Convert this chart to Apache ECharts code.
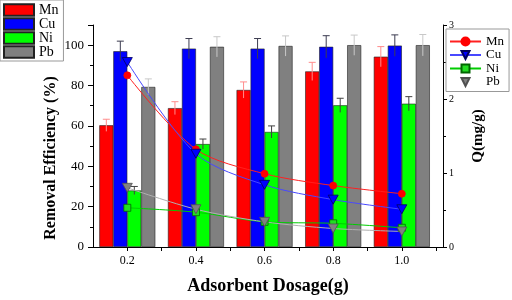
<!DOCTYPE html>
<html>
<head>
<meta charset="utf-8">
<script src="https://cdn.jsdelivr.net/npm/echarts@6/dist/echarts.min.js"></script>
<style>
html, body { margin: 0; padding: 0; background: #fff; }
#main { width: 512px; height: 300px; }
</style>
</head>
<body>
<div id="main"></div>
<script>
// dosage (g)
const dosage = [0.2, 0.4, 0.6, 0.8, 1.0]
// removal efficiency (%) and error bars
const effMn = [60.3, 68.8, 77.8, 87.0, 94.3]
const effCu = [97.0, 98.3, 98.3, 99.2, 99.8]
const effNi = [28.0, 51.0, 57.0, 70.2, 71.0]
const effPb = [79.3, 99.2, 99.6, 100.0, 100.0]
const errMn = [3.0, 3.2, 4.0, 4.5, 5.0]
const errCu = [5.0, 5.0, 5.0, 5.5, 5.3]
const errNi = [2.0, 2.5, 3.0, 3.5, 3.5]
const errPb = [4.0, 5.0, 5.0, 5.0, 5.3]
// adsorption capacity Q (mg/g)
const qMn = [2.32, 1.32, 0.99, 0.83, 0.72]
const qCu = [2.50, 1.26, 0.84, 0.64, 0.51]
const qNi = [0.53, 0.47, 0.34, 0.32, 0.26]
const qPb = [0.80, 0.51, 0.34, 0.25, 0.21]

const metals = ['Mn', 'Cu', 'Ni', 'Pb']
const barColors = ['#ff0000', '#0000ff', '#00ff00', '#808080']
const errColors = ['#ff8c8c', '#3c3c50', '#404040', '#c8c8c8']
const effAll = [effMn, effCu, effNi, effPb]
const errAll = [errMn, errCu, errNi, errPb]
const qAll = [qMn, qCu, qNi, qPb]

const font = 'Liberation Serif'
const BAR_W = 14
const downTri = 'path://M0,0 L10,0 L5,9 Z'

const chart = echarts.init(document.getElementById('main'))

const series = []
metals.forEach((m, k) => {
	series.push({
		name: m,
		type: 'bar',
		xAxisIndex: 0,
		yAxisIndex: 0,
		barWidth: BAR_W,
		barGap: '0%',
		itemStyle: { color: barColors[k], borderColor: '#222', borderWidth: 0.6 },
		data: dosage.map((d, i) => [d, effAll[k][i]]),
		z: 2
	})
})
metals.forEach((m, k) => {
	const off = (k - 1.5) * BAR_W
	series.push({
		name: 'err' + m,
		type: 'custom',
		xAxisIndex: 0,
		yAxisIndex: 0,
		z: 3,
		silent: true,
		data: dosage.map((d, i) => [d, effAll[k][i], errAll[k][i]]),
		renderItem(params, api) {
			const x = api.value(0), y = api.value(1), e = api.value(2)
			const hi = api.coord([x, y + e])
			const lo = api.coord([x, y - e])
			const cx = hi[0] + off
			const st = { stroke: errColors[k], lineWidth: 1 }
			return {
				type: 'group',
				children: [
					{ type: 'line', shape: { x1: cx, y1: lo[1], x2: cx, y2: hi[1] }, style: st },
					{ type: 'line', shape: { x1: cx - 3.5, y1: hi[1], x2: cx + 3.5, y2: hi[1] }, style: st }
				]
			}
		}
	})
})
const lineColors = ['#ff2020', '#4848ff', '#00cc00', '#b0b0b0']
const symbols = ['circle', downTri, 'rect', downTri]
const symColors = ['#ff0000', '#0000ff', '#22dd22', '#808080']
const symBorders = ['#ff0000', '#000060', '#006600', '#505050']
const symSizes = [7, [10, 9], 7, [10, 9]]
metals.forEach((m, k) => {
	series.push({
		name: m + ' ',
		type: 'line',
		xAxisIndex: 0,
		yAxisIndex: 1,
		smooth: 0.3,
		symbol: symbols[k],
		symbolSize: symSizes[k],
		showAllSymbol: true,
		lineStyle: { color: lineColors[k], width: 1 },
		itemStyle: { color: symColors[k], borderColor: symBorders[k], borderWidth: 0.8 },
		data: dosage.map((d, i) => [d, qAll[k][i]]),
		z: 5
	})
})

const option = {
	backgroundColor: '#fff',
	animation: false,
	textStyle: { fontFamily: font },
	grid: { left: 93, right: 69, top: 25, bottom: 47 },
	legend: [
		{
			data: metals,
			icon: 'rect',
			orient: 'vertical',
			left: 0,
			top: 0,
			padding: [3, 5, 2, 3],
			itemGap: 0,
			itemWidth: 30,
			itemHeight: 11.5,
			borderColor: '#999',
			borderWidth: 1,
			textStyle: { fontFamily: font, fontSize: 14, lineHeight: 13, color: '#000' }
		},
		{
			data: metals.map((m, k) => k === 3
				? { name: m + ' ', lineStyle: { opacity: 0 } }
				: { name: m + ' ' }),
			orient: 'vertical',
			left: 446,
			top: 29,
			padding: [6, 5, 3, 3],
			itemGap: 0.5,
			itemWidth: 31,
			itemHeight: 10,
			borderColor: '#999',
			borderWidth: 1,
			formatter: name => name.trim(),
			textStyle: { fontFamily: font, fontSize: 13, lineHeight: 12, color: '#000' }
		}
	],
	graphic: [
		{
			type: 'text',
			x: 51,
			y: 158,
			rotation: Math.PI / 2,
			style: {
				text: 'Removal Efficiency (%)',
				font: 'bold 16px "Liberation Serif"',
				fill: '#000',
				align: 'center',
				verticalAlign: 'middle'
			}
		}
	],
	xAxis: {
		type: 'value',
		min: 0.1,
		max: 1.12,
		interval: 0.1,
		name: 'Adsorbent Dosage(g)',
		nameLocation: 'middle',
		nameGap: 30,
		nameTextStyle: { fontFamily: font, fontSize: 18, fontWeight: 'bold', color: '#000' },
		axisLine: { lineStyle: { color: '#000', width: 1 } },
		axisTick: { length: 4, lineStyle: { color: '#000' } },
		splitLine: { show: false },
		axisLabel: {
			color: '#000',
			fontSize: 12,
			fontFamily: font,
			showMinLabel: false,
			showMaxLabel: false,
			formatter: v => {
				const r = Math.round(v * 10)
				return r % 2 === 0 ? (r / 10).toFixed(1) : ''
			}
		}
	},
	yAxis: [
		{
			type: 'value',
			min: 0,
			max: 110,
			interval: 20,
			axisLine: { show: true, lineStyle: { color: '#000', width: 1 } },
			axisTick: { show: true, length: 5, lineStyle: { color: '#000' } },
			minorTick: { show: true, splitNumber: 2, length: 3, lineStyle: { color: '#000' } },
			splitLine: { show: false },
			axisLabel: { color: '#000', fontSize: 13, fontFamily: font, showMaxLabel: false, margin: 9 }
		},
		{
			type: 'value',
			position: 'right',
			min: 0,
			max: 3,
			interval: 1,
			name: 'Q(mg/g)',
			nameLocation: 'middle',
			nameRotate: 90,
			nameGap: 28,
			nameTextStyle: { fontFamily: font, fontSize: 15, fontWeight: 'bold', color: '#000' },
			axisLine: { show: true, lineStyle: { color: '#000', width: 1 } },
			axisTick: { show: true, length: 4, lineStyle: { color: '#000' } },
			minorTick: { show: true, splitNumber: 2, length: 3, lineStyle: { color: '#000' } },
			splitLine: { show: false },
			axisLabel: { color: '#000', fontSize: 10, fontFamily: font, margin: 6 }
		}
	],
	series: series
}

chart.setOption(option)
</script>
</body>
</html>
